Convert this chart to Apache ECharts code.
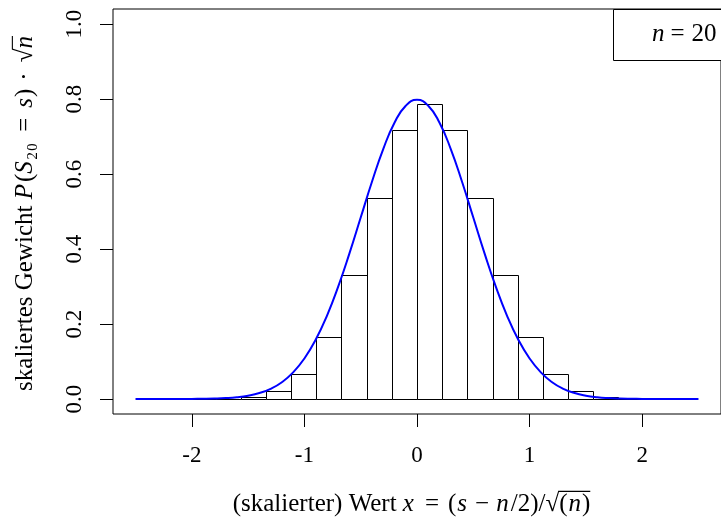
<!DOCTYPE html>
<html>
<head>
<meta charset="utf-8">
<script src="https://cdn.jsdelivr.net/npm/echarts@6/dist/echarts.min.js"></script>
<style>
html,body{margin:0;padding:0;background:#fff;}
#chart{width:721px;height:524px;}
</style>
</head>
<body>
<div id="chart"></div>
<script>
// Histogram bars: left edge x = (s - n/2)/sqrt(n), n = 20
const barLeft = [-2.23607, -2.01246, -1.78885, -1.56525, -1.34164, -1.11803, -0.89443, -0.67082, -0.44721, -0.22361, 0,
  0.22361, 0.44721, 0.67082, 0.89443, 1.11803, 1.34164, 1.56525, 1.78885, 2.01246, 2.23607];
const barWidth = 0.22361;
// scaled weight P(S_20 = s) * sqrt(n)
const barHeight = [0.0000043, 0.0000853, 0.000810, 0.004862, 0.020665, 0.066124, 0.165310, 0.330620, 0.537256, 0.716343, 0.787976,
  0.716343, 0.537256, 0.330620, 0.165310, 0.066124, 0.020665, 0.004862, 0.000810, 0.0000853, 0.0000043];

// Normal density curve points
const curveX = [-2.5,-2.4,-2.3,-2.2,-2.1,-2.0,-1.9,-1.8,-1.7,-1.6,-1.5,-1.4,-1.3,-1.2,-1.1,-1.0,-0.9,-0.8,-0.7,-0.6,-0.5,-0.4,-0.3,-0.2,-0.1,0,
  0.1,0.2,0.3,0.4,0.5,0.6,0.7,0.8,0.9,1.0,1.1,1.2,1.3,1.4,1.5,1.6,1.7,1.8,1.9,2.0,2.1,2.2,2.3,2.4,2.5];
const curveY = [0.000003,0.0000079,0.0000203,0.0000499,0.000117,0.000268,0.000583,0.00122,0.00247,0.00477,0.00886,0.0158,0.0272,0.0448,0.0709,0.1080,0.1579,0.2218,0.2995,0.3884,0.4839,0.5794,0.6665,0.7366,0.7821,0.7979,
  0.7821,0.7366,0.6665,0.5794,0.4839,0.3884,0.2995,0.2218,0.1579,0.1080,0.0709,0.0448,0.0272,0.0158,0.00886,0.00477,0.00247,0.00122,0.000583,0.000268,0.000117,0.0000499,0.0000203,0.0000079,0.000003];

const xTicks = [-2, -1, 0, 1, 2];
const yTicks = [0, 0.2, 0.4, 0.6, 0.8, 1.0];
const xRange = [-2.7, 2.7];
const yRange = [-0.04, 1.04];

const FAMILY = '"Liberation Serif", "DejaVu Serif", serif';
const TITLE_SIZE = 25;
const TICK_SIZE = 23;

const chart = echarts.init(document.getElementById('chart'), null, {renderer: 'canvas'});

const barData = barLeft.map((l, i) => [l, barHeight[i]]);
const curveData = curveX.map((x, i) => [x, curveY[i]]);

// --- text layout helper (rich text + measured overline for square roots) ---
const mctx = document.createElement('canvas').getContext('2d');
function measure(text, italic, size) {
  mctx.font = (italic ? 'italic ' : '') + size + 'px ' + FAMILY;
  mctx.textBaseline = 'middle';
  return mctx.measureText(text);
}
// segs: [text, italic, padL, padR, overline]
function buildTitle(segs, size) {
  const rich = {};
  let str = '';
  let x = 0;
  const over = [];
  segs.forEach((s, i) => {
    const [text, italic, pl, pr, ov] = s;
    const name = 's' + i;
    rich[name] = {fontFamily: FAMILY, fontSize: size, fontStyle: italic ? 'italic' : 'normal', color: '#000',
      padding: [0, pr || 0, 0, pl || 0]};
    str += '{' + name + '|' + text + '}';
    const w = measure(text, italic, size).width + (pl || 0) + (pr || 0);
    if (ov) over.push([x + (pl || 0), x + w - (pr || 0)]);
    x += w;
  });
  const rootAsc = measure('√', false, size).actualBoundingBoxAscent;
  return {str, rich, width: x, over, rootAsc};
}
function titleGroup(segs, size, cx, cy, rotation) {
  const t = buildTitle(segs, size);
  const children = [{
    type: 'text', x: -t.width / 2, y: 0,
    style: {text: t.str, rich: t.rich, align: 'left', verticalAlign: 'middle'}
  }];
  let ovStart = null, ovEnd = null;
  t.over.forEach(o => { ovStart = ovStart === null ? o[0] : Math.min(ovStart, o[0]); ovEnd = Math.max(ovEnd || 0, o[1]); });
  if (ovStart !== null) {
    const yy = -t.rootAsc + 0.8;
    children.push({type: 'line', shape: {x1: -t.width / 2 + ovStart - 1, y1: yy, x2: -t.width / 2 + ovEnd, y2: yy},
      style: {stroke: '#000', lineWidth: 1.1}});
  }
  return {type: 'group', x: cx, y: cy, rotation: rotation, children: children};
}

const xTitleSegs = [
  ['(skalierter) Wert ', false], ['x', true, 0, 2], ['=', false, 9, 9], ['(', false], ['s', true, 1, 1], ['−', false, 7, 7],
  ['n', true, 0, 2], ['/2)/√', false], ['(', false, 0, 0, true], ['n', true, 1, 1, true], [')', false, 0, 0, true]
];
const yTitleSegs = [
  ['skaliertes Gewicht ', false], ['P', true, 0, 2], ['(', false], ['S', true, 0, 1], ['₂₀', false, 0, 2], ['=', false, 9, 9],
  ['s', true, 1, 1], [')', false], ['·', false, 8, 8], ['√', false, 2, 0], ['n', true, 0, 2, true]
];

const legendRich = {
  i: {fontFamily: FAMILY, fontSize: TITLE_SIZE, fontStyle: 'italic', color: '#000'},
  eq: {fontFamily: FAMILY, fontSize: TITLE_SIZE, color: '#000', padding: [0, 7, 0, 6]},
  t: {fontFamily: FAMILY, fontSize: TITLE_SIZE, color: '#000'}
};

chart.setOption({
  animation: false,
  backgroundColor: '#fff',
  grid: {left: 113, right: -3, top: 9, bottom: 110, show: true, borderColor: '#000', borderWidth: 1, backgroundColor: 'transparent'},
  xAxis: {
    type: 'value', min: xRange[0], max: xRange[1],
    axisLine: {show: false, onZero: false},
    splitLine: {show: false},
    axisTick: {show: true, length: 13, inside: false, customValues: xTicks, lineStyle: {color: '#000', width: 1}},
    axisLabel: {show: true, customValues: xTicks, margin: 30, fontFamily: FAMILY, fontSize: TICK_SIZE, color: '#000',
      formatter: v => String(v)}
  },
  yAxis: {
    type: 'value', min: yRange[0], max: yRange[1],
    axisLine: {show: false, onZero: false},
    splitLine: {show: false},
    axisTick: {show: true, length: 13, inside: false, customValues: yTicks, lineStyle: {color: '#000', width: 1}},
    axisLabel: {show: true, customValues: yTicks, rotate: 90, margin: 27, fontFamily: FAMILY, fontSize: TICK_SIZE, color: '#000',
      formatter: v => v.toFixed(1)}
  },
  graphic: [
    titleGroup(xTitleSegs, TITLE_SIZE, 411.5, 504, 0),
    titleGroup(yTitleSegs, TITLE_SIZE, 25, 212.5, Math.PI / 2),
    {type: 'rect', shape: {x: 613.5, y: 9.5, width: 120, height: 51}, style: {fill: '#fff', stroke: '#000', lineWidth: 1}, z: 100},
    {type: 'text', x: 652, y: 34, z: 101,
      style: {text: '{i|n}{eq|=}{t|20}', rich: legendRich, verticalAlign: 'middle', align: 'left'}}
  ],
  series: [
    {
      type: 'custom',
      data: barData,
      clip: true,
      renderItem: function (params, api) {
        const l = api.value(0), h = api.value(1);
        const p0 = api.coord([l, 0]);
        const p1 = api.coord([l + barWidth, h]);
        const x0 = Math.round(p0[0]) + 0.5, x1 = Math.round(p1[0]) + 0.5;
        const y0 = Math.round(p0[1]) + 0.5, y1 = Math.round(p1[1]) + 0.5;
        return {
          type: 'rect',
          shape: {x: x0, y: y1, width: x1 - x0, height: y0 - y1},
          style: {fill: '#fff', stroke: '#000', lineWidth: 1}
        };
      },
      z: 2
    },
    {
      type: 'line',
      data: curveData,
      showSymbol: false,
      smooth: true,
      lineStyle: {color: '#0000ff', width: 2},
      z: 5
    }
  ]
});
</script>
</body>
</html>
